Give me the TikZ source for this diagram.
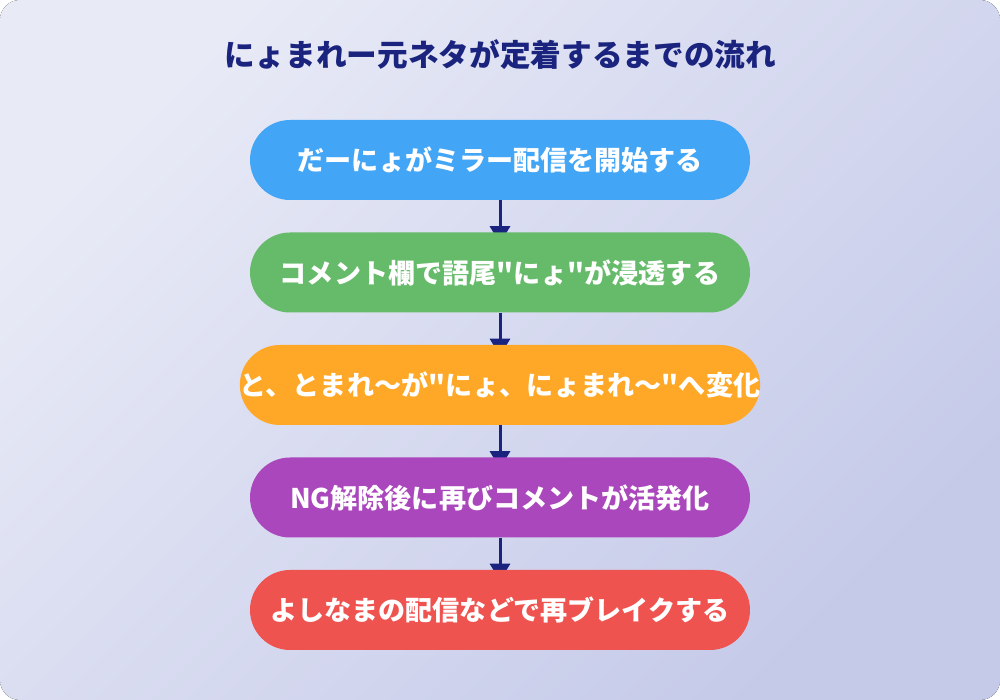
\documentclass[tikz,border=0pt]{standalone}
\usepackage{fontspec}
\setmainfont{Noto Sans CJK JP}[Ligatures=TeXOff]
\usetikzlibrary{arrows.meta}
\definecolor{bgA}{HTML}{E8EAF6}
\definecolor{bgB}{HTML}{C5CAE9}
\definecolor{navy}{HTML}{1A237E}
\definecolor{cblue}{HTML}{42A5F5}
\definecolor{cgreen}{HTML}{66BB6A}
\definecolor{corange}{HTML}{FFA726}
\definecolor{cpurple}{HTML}{AB47BC}
\definecolor{cred}{HTML}{EF5350}
\pgfdeclarelayer{back}
\pgfdeclarelayer{arrows}
\pgfsetlayers{back,arrows,main}
\tikzset{
  stepbox/.style={rectangle, rounded corners=30pt, minimum width=375pt, minimum height=60pt,
    inner sep=0pt, text=white, font=\bfseries\fontsize{20.3pt}{24pt}\selectfont},
  flowarrow/.style={draw=navy, line width=2.25pt, -{Triangle[length=12.75pt,width=15pt]}},
  titletext/.style={text=navy, font=\bfseries\fontsize{23pt}{27pt}\selectfont, inner sep=0pt}
}
\begin{document}
\begin{tikzpicture}[x=0.75pt,y=0.75pt]
\useasboundingbox (0,0) rectangle (1000,700);
\begin{pgfonlayer}{back}
\fill[white] (0,0) rectangle (1000,700);
\fill[rounded corners=15pt, shading=axis, top color=bgA, bottom color=bgB, shading angle=45] (0,0) rectangle (1000,700);
\end{pgfonlayer}
\node[titletext] (title) at (500,645) {にょまれー元ネタが定着するまでの流れ};
\node[stepbox, fill=cblue] (s1) at (500,540) {だーにょがミラー配信を開始する};
\node[stepbox, fill=cgreen] (s2) at (500,427.5) {コメント欄で語尾"にょ"が浸透する};
\node[stepbox, fill=corange] (s3) at (500,315) {と、とまれ〜が"にょ、にょまれ〜"へ変化};
\node[stepbox, fill=cpurple] (s4) at (500,202.5) {NG解除後に再びコメントが活発化};
\node[stepbox, fill=cred] (s5) at (500,90) {よしなまの配信などで再ブレイクする};
\begin{pgfonlayer}{arrows}
\draw[flowarrow] (s1.south) -- ([yshift=-8.25pt]s2.north);
\draw[flowarrow] (s2.south) -- ([yshift=-8.25pt]s3.north);
\draw[flowarrow] (s3.south) -- ([yshift=-8.25pt]s4.north);
\draw[flowarrow] (s4.south) -- ([yshift=-8.25pt]s5.north);
\end{pgfonlayer}
\end{tikzpicture}
\end{document}
